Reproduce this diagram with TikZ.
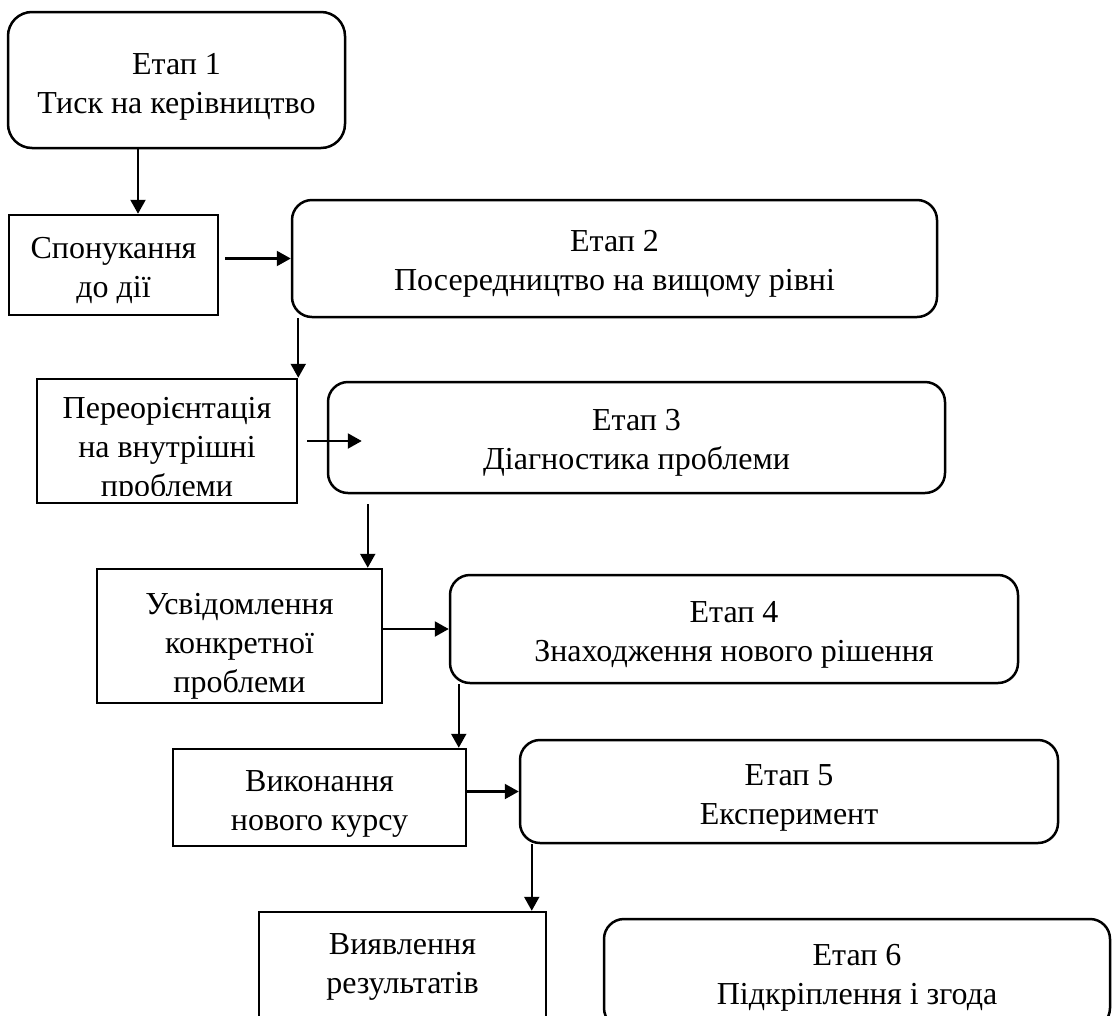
\documentclass[tikz,border=0pt]{standalone}
\usepackage{fontspec}
\setmainfont{Liberation Serif}
\usetikzlibrary{calc,arrows.meta}

\tikzset{
    stage/.style={draw, line width=2.5pt, rounded corners=20pt, inner sep=0pt},
    sbox/.style={draw, line width=2.5pt, inner sep=0pt},
    txt/.style={align=center, inner sep=0pt},
    arr/.style={line width=2.2pt, -{Triangle[length=14pt,width=15pt]}}
}

\begin{document}
\begin{tikzpicture}[x=1pt, y=-1pt, font=\fontsize{32}{39}\selectfont]
            \useasboundingbox (0,0) rectangle (1115,1015);
            \clip (0,0) rectangle (1115,1015);

            % stages
            \node (e1) at (176.5,80) [stage, rounded corners=24pt, minimum width=337, minimum height=136] {};
            \node (e2) at (614.5,258.5) [stage, minimum width=645, minimum height=117] {};
            \node (e3) at (636.5,437.5) [stage, minimum width=617, minimum height=111] {};
            \node (e4) at (734,629) [stage, minimum width=568, minimum height=108] {};
            \node (e5) at (789,791.5) [stage, minimum width=538, minimum height=103] {};
            \node (e6) at (857,973.5) [stage, minimum width=506, minimum height=109] {};

            % actions
            \node (s1) at (113.5,265) [sbox, minimum width=209, minimum height=100] {};
            \node (p) at (167,441) [sbox, minimum width=260, minimum height=124] {};
            \node (u) at (239.5,636) [sbox, minimum width=285, minimum height=134] {};
            \node (v) at (319.5,797.5) [sbox, minimum width=293, minimum height=97] {};
            \node (r) at (402.5,967) [sbox, minimum width=287, minimum height=110] {};

            % texts
            \foreach \n/\s/\t in {e1/7/{Етап 1\\Тиск на керівництво},
                                  e2/5/{Етап 2\\Посередництво на вищому рівні},
                                  e3/5/{Етап 3\\Діагностика проблеми},
                                  e4/6/{Етап 4\\Знаходження нового рішення},
                                  e5/6/{Етап 5\\Експеримент},
                                  e6/4/{Етап 6\\Підкріплення і згода},
                                  s1/5/{Спонукання\\до дії},
                                  u/10/{Усвідомлення\\конкретної\\проблеми},
                                  v/6/{Виконання\\нового курсу},
                                  r/0/{Виявлення\\результатів}}
                {
                    \node (\n t) at ([yshift=-\s pt]\n) [txt] {\t};
                }

            \begin{scope}
                \clip (p.north west) rectangle ([yshift=9pt]p.south east);
                \node (pt) at ([yshift=-9pt]p) [txt] {Переорієнтація\\на внутрішні\\проблеми};
            \end{scope}

            % arrows
            \draw [arr] ([xshift=-38.5pt]e1.south) -- ([xshift=-38.5pt]e1.south |- s1.north);
            \draw [arr] ([xshift=6pt]s1.east |- e2.west) -- (e2.west);
            \draw [arr] (p.north east |- e2.south) -- (p.north east);
            \draw [arr] ([xshift=9pt]p.east) -- ([xshift=35pt]e3.west |- p.east);
            \draw [arr] ([xshift=41pt,yshift=-10pt]e3.south west) -- ([xshift=41pt]e3.south west |- u.north);
            \draw [arr] (u.east |- e4.west) -- (e4.west);
            \draw [arr] ([xshift=10pt]e4.south west) -- ([xshift=10pt]e4.south west |- v.north);
            \draw [arr] (v.east |- e5.west) -- (e5.west);
            \draw [arr] ([xshift=13pt]e5.south west) -- ([xshift=13pt]e5.south west |- r.north);

\end{tikzpicture}
\end{document}
